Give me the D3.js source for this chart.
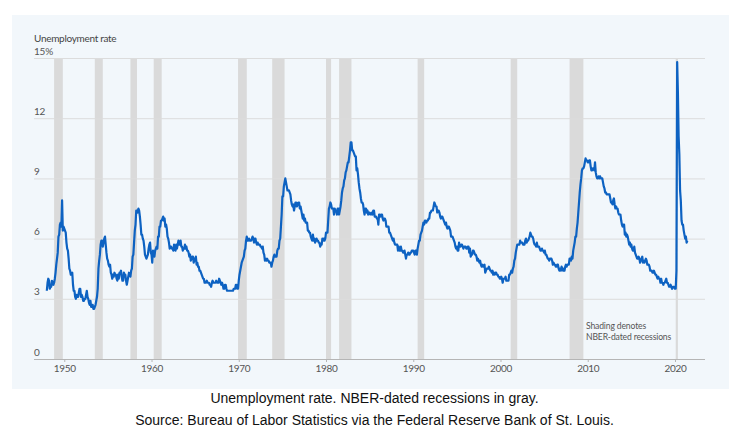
<!DOCTYPE html>
<html><head><meta charset="utf-8">
<script src="https://cdn.jsdelivr.net/npm/d3@7"></script>
<style>
html,body{margin:0;padding:0;background:#fff;}
svg{display:block;}
</style></head>
<body>
<svg id="chart" width="749" height="444"></svg>
<script>
// Monthly unemployment rate (%), Jan 1948 onward
const startYear = 1948;
const rates1940s = [
  3.4,3.8,4.0,3.9,3.5,3.6,3.6,3.9,3.8,3.7,3.8,4.0,
  4.3,4.7,5.0,5.3,6.1,6.2,6.7,6.8,6.6,7.9,6.4,6.6
];
const rates1950s = [
  6.5,6.4,6.3,5.8,5.5,5.4,5.0,4.5,4.4,4.2,4.2,4.3,
  3.7,3.4,3.4,3.1,3.0,3.2,3.1,3.1,3.3,3.5,3.5,3.1,
  3.2,3.1,2.9,2.9,3.0,3.0,3.2,3.4,3.1,3.0,2.8,2.7,
  2.9,2.6,2.6,2.7,2.5,2.5,2.6,2.7,2.9,3.1,3.5,4.5,
  4.9,5.2,5.7,5.9,5.9,5.6,5.8,6.0,6.1,5.7,5.3,5.0,
  4.9,4.7,4.6,4.7,4.3,4.2,4.0,4.2,4.1,4.3,4.2,4.2,
  4.0,3.9,4.2,4.0,4.3,4.3,4.4,4.1,3.9,3.9,4.3,4.2,
  4.2,3.9,3.7,3.9,4.1,4.3,4.2,4.1,4.4,4.5,5.1,5.2,
  5.8,6.4,6.7,7.4,7.4,7.3,7.5,7.4,7.1,6.7,6.2,6.2,
  6.0,5.9,5.6,5.2,5.1,5.0,5.1,5.2,5.5,5.7,5.8,5.3
];
const rates1960s = [
  5.2,4.8,5.4,5.2,5.1,5.4,5.5,5.6,5.5,6.1,6.1,6.6,
  6.6,6.9,6.9,7.0,7.1,6.9,7.0,6.6,6.7,6.5,6.1,6.0,
  5.8,5.5,5.6,5.6,5.5,5.5,5.4,5.7,5.6,5.4,5.7,5.5,
  5.7,5.9,5.7,5.7,5.9,5.6,5.6,5.4,5.5,5.5,5.7,5.5,
  5.6,5.4,5.4,5.3,5.1,5.2,4.9,5.0,5.1,5.1,4.8,5.0,
  4.9,5.1,4.7,4.8,4.6,4.6,4.4,4.4,4.3,4.2,4.1,4.0,
  4.0,3.8,3.8,3.8,3.9,3.8,3.8,3.8,3.7,3.7,3.6,3.8,
  3.9,3.8,3.8,3.8,3.8,3.9,3.8,3.8,3.8,4.0,3.9,3.8,
  3.7,3.8,3.7,3.5,3.5,3.7,3.7,3.5,3.4,3.4,3.4,3.4,
  3.4,3.4,3.4,3.4,3.4,3.5,3.5,3.5,3.7,3.7,3.5,3.5
];
const rates1970s = [
  3.9,4.2,4.4,4.6,4.8,4.9,5.0,5.1,5.4,5.5,5.9,6.1,
  5.9,5.9,6.0,5.9,5.9,5.9,6.0,6.1,6.0,5.8,6.0,6.0,
  5.8,5.7,5.8,5.7,5.7,5.7,5.6,5.6,5.5,5.6,5.3,5.2,
  4.9,5.0,4.9,5.0,4.9,4.9,4.8,4.8,4.8,4.6,4.8,4.9,
  5.1,5.2,5.1,5.1,5.1,5.4,5.5,5.5,5.9,6.0,6.6,7.2,
  8.1,8.1,8.6,8.8,9.0,8.8,8.6,8.4,8.4,8.4,8.3,8.2,
  7.9,7.7,7.6,7.7,7.4,7.6,7.8,7.8,7.6,7.7,7.8,7.8,
  7.5,7.6,7.4,7.2,7.0,7.2,6.9,7.0,6.8,6.8,6.8,6.4,
  6.4,6.3,6.3,6.1,6.0,5.9,6.2,5.9,6.0,5.8,5.9,6.0,
  5.9,5.9,5.8,5.8,5.6,5.7,5.7,6.0,5.9,6.0,5.9,6.0
];
const rates1980s = [
  6.3,6.3,6.3,6.9,7.5,7.6,7.8,7.7,7.5,7.5,7.5,7.2,
  7.5,7.4,7.4,7.2,7.5,7.5,7.2,7.4,7.6,7.9,8.3,8.5,
  8.6,8.9,9.0,9.3,9.4,9.6,9.8,9.8,10.1,10.4,10.8,10.8,
  10.4,10.4,10.3,10.2,10.1,10.1,9.4,9.5,9.2,8.8,8.5,8.3,
  8.0,7.8,7.8,7.7,7.4,7.2,7.5,7.5,7.3,7.4,7.2,7.3,
  7.3,7.2,7.2,7.3,7.2,7.4,7.4,7.1,7.1,7.1,7.0,7.0,
  6.7,7.2,7.2,7.1,7.2,7.2,7.0,6.9,7.0,7.0,6.9,6.6,
  6.6,6.6,6.6,6.3,6.3,6.2,6.1,6.0,5.9,6.0,5.8,5.7,
  5.7,5.7,5.7,5.4,5.6,5.4,5.4,5.6,5.4,5.4,5.3,5.3,
  5.4,5.2,5.0,5.2,5.2,5.3,5.2,5.2,5.3,5.3,5.4,5.4
];
const rates1990s = [
  5.4,5.3,5.2,5.4,5.4,5.2,5.5,5.7,5.9,5.9,6.2,6.3,
  6.4,6.6,6.8,6.7,6.9,6.9,6.8,6.9,6.9,7.0,7.0,7.3,
  7.3,7.4,7.4,7.4,7.6,7.8,7.7,7.6,7.6,7.3,7.4,7.4,
  7.3,7.1,7.0,7.1,7.1,7.0,6.9,6.8,6.7,6.8,6.6,6.5,
  6.6,6.6,6.5,6.4,6.1,6.1,6.1,6.0,5.9,5.8,5.6,5.5,
  5.6,5.4,5.4,5.8,5.6,5.6,5.7,5.7,5.6,5.5,5.6,5.6,
  5.6,5.5,5.5,5.6,5.6,5.3,5.5,5.1,5.2,5.2,5.4,5.4,
  5.3,5.2,5.2,5.1,4.9,5.0,4.9,4.8,4.9,4.7,4.6,4.7,
  4.6,4.6,4.7,4.3,4.4,4.5,4.5,4.5,4.6,4.5,4.4,4.4,
  4.3,4.4,4.2,4.3,4.2,4.3,4.3,4.2,4.2,4.1,4.1,4.0
];
const rates2000s = [
  4.0,4.1,4.0,3.8,4.0,4.0,4.0,4.1,3.9,3.9,3.9,3.9,
  4.2,4.2,4.3,4.4,4.3,4.5,4.6,4.9,5.0,5.3,5.5,5.7,
  5.7,5.7,5.7,5.9,5.8,5.8,5.8,5.7,5.7,5.7,5.9,6.0,
  5.8,5.9,5.9,6.0,6.1,6.3,6.2,6.1,6.1,6.0,5.8,5.7,
  5.7,5.6,5.8,5.6,5.6,5.6,5.5,5.4,5.4,5.5,5.4,5.4,
  5.3,5.4,5.2,5.2,5.1,5.0,5.0,4.9,5.0,5.0,5.0,4.9,
  4.7,4.8,4.7,4.7,4.6,4.6,4.7,4.7,4.5,4.4,4.5,4.4,
  4.6,4.5,4.4,4.5,4.4,4.6,4.7,4.6,4.7,4.7,4.7,5.0,
  5.0,4.9,5.1,5.0,5.4,5.6,5.8,6.1,6.1,6.5,6.8,7.3,
  7.8,8.3,8.7,9.0,9.4,9.5,9.5,9.6,9.8,10.0,9.9,9.9
];
const rates2010s = [
  9.8,9.8,9.9,9.9,9.6,9.4,9.4,9.5,9.5,9.4,9.8,9.3,
  9.1,9.0,9.0,9.1,9.0,9.1,9.0,9.0,9.0,8.8,8.6,8.5,
  8.3,8.3,8.2,8.2,8.2,8.2,8.2,8.0,7.8,7.8,7.7,7.9,
  8.0,7.7,7.5,7.6,7.5,7.5,7.3,7.2,7.2,7.2,6.9,6.7,
  6.6,6.7,6.7,6.2,6.3,6.1,6.2,6.1,5.9,5.7,5.8,5.6,
  5.7,5.5,5.4,5.4,5.6,5.3,5.2,5.1,5.0,5.0,5.1,5.0,
  4.8,4.9,5.0,5.1,4.8,4.9,4.8,4.9,5.0,4.9,4.7,4.7,
  4.7,4.6,4.4,4.4,4.4,4.3,4.3,4.4,4.3,4.2,4.2,4.1,
  4.0,4.1,4.0,4.0,3.8,4.0,3.8,3.8,3.7,3.8,3.8,3.9,
  4.0,3.8,3.8,3.7,3.6,3.6,3.7,3.6,3.5,3.6,3.6,3.6
];
const rates2020s = [
  3.5,3.5,4.4,14.8,13.3,11.1,10.2,8.4,7.9,6.9,6.7,6.7,
  6.4,6.2,6.0,6.1,5.8,5.9
];

// NBER recessions (peak month, trough month)
const recessionStart = ["1948-11","1953-07","1957-08","1960-04","1969-12","1973-11","1980-01","1981-07","1990-07","2001-03","2007-12","2020-02"];
const recessionEnd   = ["1949-10","1954-05","1958-04","1961-02","1970-11","1975-03","1980-07","1982-11","1991-03","2001-11","2009-06","2020-04"];

const yTicks = [0, 3, 6, 9, 12, 15];
const yTickLabels = ["0", "3", "6", "9", "12", "15%"];
const xTicks = [1950, 1960, 1970, 1980, 1990, 2000, 2010, 2020];

const yAxisTitle = "Unemployment rate";
const noteLines = ["Shading denotes", "NBER-dated recessions"];
const captionLines = [
  "Unemployment rate. NBER-dated recessions in gray.",
  "Source: Bureau of Labor Statistics via the Federal Reserve Bank of St. Louis."
];

// ---- build data
const allRates = [].concat(rates1940s, rates1950s, rates1960s, rates1970s, rates1980s, rates1990s, rates2000s, rates2010s, rates2020s);
const series = allRates.map((v, i) => ({ t: startYear + i / 12, v }));
const ym = s => { const [yy, mm] = s.split("-").map(Number); return yy + (mm - 1) / 12; };
const recessions = recessionStart.map((s, i) => ({ a: ym(s), b: ym(recessionEnd[i]) + 1 / 12 }));

// ---- layout
const svg = d3.select("#chart");
const font = "'Source Sans Pro', Lato, 'Open Sans', sans-serif";
const plotL = 34, plotR = 705, plotT = 58, plotB = 359;

svg.append("rect").attr("x", 12).attr("y", 15).attr("width", 717).attr("height", 374).attr("fill", "#f2f7fb");

const x = d3.scaleLinear().domain([1946.53, 2023.44]).range([plotL, plotR]);
const y = d3.scaleLinear().domain([0, 15]).range([plotB, plotT]);

// recession shading
svg.append("g").selectAll("rect").data(recessions).join("rect")
  .attr("x", d => x(d.a))
  .attr("width", d => Math.max(1.5, x(d.b) - x(d.a)))
  .attr("y", y(15))
  .attr("height", y(0) - y(15))
  .attr("fill", "#dadada");

// gridlines + y labels
const yAxis = d3.axisLeft(y).tickValues(yTicks.filter(t => t > 0)).tickSize(-(plotR - plotL)).tickFormat("");
const gy = svg.append("g").attr("transform", `translate(${plotL},0)`).call(yAxis);
gy.select(".domain").remove();
gy.selectAll(".tick line").attr("stroke", "#dcdcdc").attr("stroke-width", 1);

svg.append("g").selectAll("text").data(yTicks).join("text")
  .attr("x", plotL)
  .attr("y", d => y(d) - 3.5)
  .attr("font-family", font).attr("font-size", 10).attr("letter-spacing", -0.2).attr("fill", "#555")
  .text((d, i) => yTickLabels[i]);

svg.append("text").attr("x", plotL).attr("y", 41.5)
  .attr("font-family", font).attr("font-size", 10).attr("letter-spacing", -0.3).attr("fill", "#444")
  .text(yAxisTitle);

// x axis
const xAxis = d3.axisBottom(x).tickValues(xTicks).tickFormat(d3.format("d")).tickSize(3).tickPadding(3);
const gx = svg.append("g").attr("transform", `translate(0,${plotB})`).call(xAxis);
gx.select(".domain").attr("stroke", "#b5b5b5").attr("d", `M${plotL},0.5H${plotR}`);
gx.selectAll(".tick line").attr("stroke", "#b5b5b5");
gx.selectAll(".tick text").attr("font-family", font).attr("font-size", 10).attr("letter-spacing", -0.3).attr("fill", "#555");

// line
const line = d3.line().x(d => x(d.t)).y(d => y(d.v));
svg.append("path").datum(series)
  .attr("d", line)
  .attr("fill", "none")
  .attr("stroke", "#0d62c2")
  .attr("stroke-width", 2.2)
  .attr("stroke-linejoin", "round");

// note
svg.append("g").selectAll("text").data(noteLines).join("text")
  .attr("x", 586).attr("y", (d, i) => 329 + i * 11)
  .attr("font-family", font).attr("font-size", 8.6).attr("letter-spacing", -0.15).attr("fill", "#555")
  .text(d => d);

// caption
svg.append("g").selectAll("text").data(captionLines).join("text")
  .attr("x", 374.5).attr("y", (d, i) => 403 + i * 22)
  .attr("text-anchor", "middle")
  .attr("font-family", "'Liberation Sans', Arial, sans-serif").attr("font-size", 14).attr("fill", "#111")
  .text(d => d);
</script>
</body></html>
